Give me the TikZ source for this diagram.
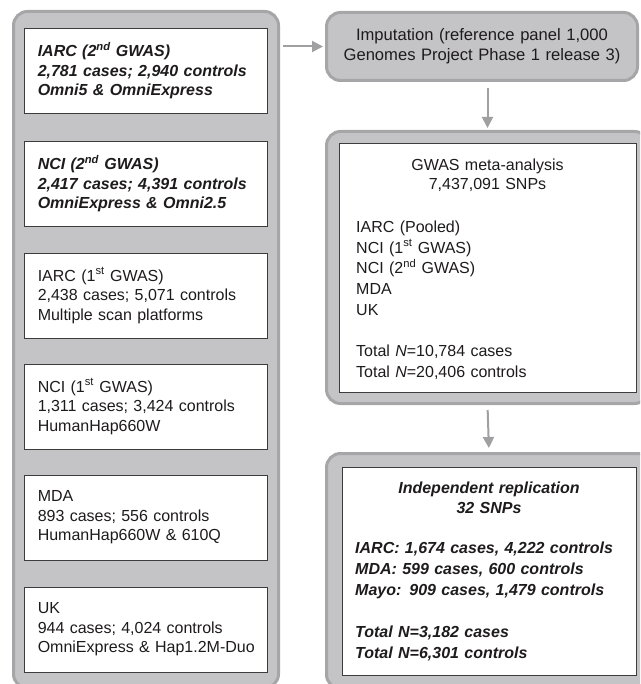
\documentclass[tikz,border=0pt]{standalone}
\usepackage{fontspec}
\setmainfont{Liberation Sans}
\usepackage{tikz}
\usetikzlibrary{arrows.meta, calc}
\definecolor{panelFill}{RGB}{196,196,198}
\definecolor{panelEdge}{RGB}{166,166,168}
\definecolor{arrowGray}{RGB}{160,160,162}
\definecolor{boxEdge}{RGB}{60,60,60}
\definecolor{inkBlack}{RGB}{30,27,28}
\newcommand{\cohortfont}{\fontsize{16}{19.5}\selectfont}
\tikzset{
  panel/.style={draw=panelEdge, fill=panelFill, line width=3pt, rounded corners=14pt, inner sep=0pt},
  cohort/.style={draw=boxEdge, fill=white, line width=0.9pt, minimum width=243pt, minimum height=85pt, inner sep=0pt},
  cohorttext/.style={anchor=west, inner sep=0pt, text width=230pt, align=left, font=\cohortfont, text=inkBlack},
  flow/.style={draw=arrowGray, line width=2pt, -{Triangle[length=11pt, width=11pt]}}
}

\begin{document}
\begin{tikzpicture}[x=1pt, y=-1pt]
  \useasboundingbox (0,0) rectangle (640,684);
  \clip (0,0) rectangle (640,684);

  % left column: genotyped studies
  \node[panel, minimum width=265pt, minimum height=676.5pt] (cohorts) at (146,349.75) {};

  \node[cohort] (iarcTwo) at (145.5,70.5) {};
  \node[cohorttext, font=\cohortfont\bfseries\itshape] (iarcTwoTxt) at ([xshift=14pt]iarcTwo.west) {IARC (2\textsuperscript{nd} GWAS)\\2,781 cases; 2,940 controls\\Omni5 \& OmniExpress};

  \node[cohort] (nciTwo) at (145.5,183.5) {};
  \node[cohorttext, font=\cohortfont\bfseries\itshape] (nciTwoTxt) at ([xshift=14pt]nciTwo.west) {NCI (2\textsuperscript{nd} GWAS)\\2,417 cases; 4,391 controls\\OmniExpress \& Omni2.5};

  \node[cohort] (iarcOne) at (145.5,295.5) {};
  \node[cohorttext] (iarcOneTxt) at ([xshift=14pt]iarcOne.west) {IARC (1\textsuperscript{st} GWAS)\\2,438 cases; 5,071 controls\\Multiple scan platforms};

  \node[cohort] (nciOne) at (145.5,406.5) {};
  \node[cohorttext] (nciOneTxt) at ([xshift=14pt]nciOne.west) {NCI (1\textsuperscript{st} GWAS)\\1,311 cases; 3,424 controls\\HumanHap660W};

  \node[cohort] (mda) at (145.5,517.5) {};
  \node[cohorttext] (mdaTxt) at ([xshift=14pt]mda.west) {MDA\\893 cases; 556 controls\\HumanHap660W \& 610Q};

  \node[cohort] (uk) at (145.5,629.5) {};
  \node[cohorttext] (ukTxt) at ([xshift=14pt]uk.west) {UK\\944 cases; 4,024 controls\\OmniExpress \& Hap1.2M-Duo};

  % right column: pipeline
  \node[panel, minimum width=311pt, minimum height=68pt, text width=300pt, align=center, font=\fontsize{16.6}{20}\selectfont, text=inkBlack] (imput) at (482,46.5) {Imputation (reference panel 1,000\\Genomes Project Phase 1 release 3)};

  \node[panel, minimum width=322pt, minimum height=272pt] (meta) at (487.5,267.5) {};
  \node[cohort, minimum width=297pt, minimum height=249pt] (metaBox) at (487.5,267.5) {};
  \node[cohorttext, anchor=base, align=center, font=\fontsize{16}{19}\selectfont] (metaHead) at (487.5,170.5) {GWAS meta-analysis\\7,437,091 SNPs};
  \node[cohorttext, anchor=base west, font=\fontsize{16}{20.7}\selectfont] (metaList) at (356,232.5) {IARC (Pooled)\\NCI (1\textsuperscript{st} GWAS)\\NCI (2\textsuperscript{nd} GWAS)\\MDA\\UK\\[20.7pt]Total \textit{N}=10,784 cases\\Total \textit{N}=20,406 controls};

  \node[panel, minimum width=325pt, minimum height=235pt] (rep) at (489,571) {};
  \node[cohort, minimum width=294pt, minimum height=208pt] (repBox) at (489,571) {};
  \node[cohorttext, anchor=base, align=center, font=\fontsize{16}{20}\selectfont\bfseries\itshape] (repHead) at (489,493.5) {Independent replication\\32 SNPs};
  \node[cohorttext, anchor=base west, text width=275pt, font=\fontsize{16}{21}\selectfont\bfseries\itshape] (repList) at (355,553.5) {IARC: 1,674 cases, 4,222 controls\\MDA: 599 cases, 600 controls\\Mayo: 909 cases, 1,479 controls\\[21pt]Total N=3,182 cases\\Total N=6,301 controls};

  % connectors
  \draw[flow, shorten <=3pt, shorten >=2pt] (imput.west -| cohorts.east) -- (imput.west);
  \draw[flow, shorten <=6pt, shorten >=2pt] (imput.south -| meta.north) -- (meta.north);
  \draw[flow, shorten <=5pt, shorten >=4pt] (meta.south) -- (rep.north);

\end{tikzpicture}
\end{document}
